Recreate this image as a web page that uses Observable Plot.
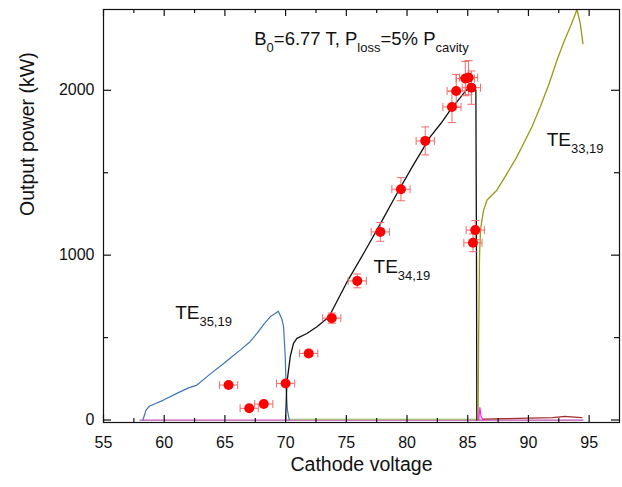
<!DOCTYPE html>
<html><head><meta charset="utf-8">
<script src="https://cdn.jsdelivr.net/npm/d3@7"></script>
<script src="https://cdn.jsdelivr.net/npm/@observablehq/plot@0.6"></script>
<style>body{margin:0;background:#fff;} svg{display:block}</style>
</head><body><div id="chart"></div>
<script>
// ---- axes ----
const xTicks = [55, 60, 65, 70, 75, 80, 85, 90, 95];
const xMinorTicks = [57.5, 62.5, 67.5, 72.5, 77.5, 82.5, 87.5, 92.5];
const yTicks = [0, 1000, 2000];
const yMinorTicks = [500, 1500];

// ---- TE35,19 (blue) ----
const te35X = [58.25, 58.5, 58.8, 59.3, 59.94, 61.0, 62.0, 62.7, 63.8, 64.9, 65.6, 66.26, 67.0, 67.64, 68.2, 68.73, 69.14, 69.4, 69.55, 69.7, 69.83, 69.97, 70.05, 70.15, 70.3];
const te35Y = [0, 60, 85, 100, 121, 160, 195, 212, 280, 343, 385, 424, 470, 525, 580, 626, 646, 660, 636, 610, 566, 384, 182, 60, 0];

// ---- TE34,19 (black) ----
const te34X = [70.0, 70.1, 70.38, 70.65, 70.93, 71.75, 72.58, 73.4, 73.7, 75.0, 76.42, 77.8, 79.17, 80.5, 81.91, 82.8, 83.56, 84.1, 84.65, 85.0, 85.34, 85.6, 85.67, 85.72, 85.75];
const te34Y = [0, 222, 384, 465, 495, 525, 566, 616, 645, 830, 1010, 1190, 1374, 1545, 1717, 1800, 1879, 1930, 1980, 2010, 2020, 2010, 2000, 1000, 0];

// ---- TE33,19 (olive) ----
const te33X = [85.85, 85.9, 85.97, 86.05, 86.17, 86.3, 86.58, 87.0, 87.4, 88.23, 89.0, 89.6, 90.3, 90.97, 91.7, 92.35, 92.9, 93.44, 93.8, 94.0, 94.27, 94.49];
const te33Y = [0, 500, 990, 1150, 1212, 1270, 1333, 1365, 1394, 1495, 1590, 1677, 1780, 1899, 2040, 2182, 2290, 2384, 2450, 2490, 2404, 2283];

// ---- other modes near zero ----
const pinkX = [58.0, 94.5];
const pinkY = [0, 0];
const greenX = [70.3, 86.0];
const greenY = [5, 5];
const redLineX = [86.2, 88.0, 90.0, 92.0, 93.0, 93.8, 94.4];
const redLineY = [5, 8, 12, 15, 22, 18, 15];
const spikeX = [85.9, 86.0, 86.1, 86.3];
const spikeY = [0, 75, 20, 0];

// ---- measured points ----
const ptX = [65.3, 67.0, 68.2, 70.0, 71.9, 73.8, 75.9, 77.8, 79.5, 81.5, 83.7, 84.05, 84.8, 85.07, 85.3, 85.62, 85.43];
const ptY = [212, 71, 97, 222, 404, 618, 844, 1141, 1400, 1693, 1899, 1996, 2071, 2077, 2016, 1152, 1075];
const ptXErr = [0.75, 0.75, 0.75, 0.75, 0.75, 0.75, 0.75, 0.75, 0.75, 0.75, 0.75, 0.75, 0.75, 0.75, 0.75, 0.75, 0.75];
const ptYErr = [11, 4, 5, 11, 20, 31, 42, 57, 70, 85, 95, 100, 104, 104, 101, 58, 54];

// ---- labels ----
const titleText = "B_{0}=6.77 T, P_{loss}=5% P_{cavity}";
const modeLabels = ["TE_{35,19}", "TE_{34,19}", "TE_{33,19}"];
const modeLabelX = [60.9, 77.24, 91.5];
const modeLabelY = [648, 929, 1697];

// ---- build tables ----
const zip = (xs, ys) => xs.map((x, i) => ({x, y: ys[i]}));
const te35 = zip(te35X, te35Y), te34 = zip(te34X, te34Y), te33 = zip(te33X, te33Y);
const pink = zip(pinkX, pinkY), green = zip(greenX, greenY), redLine = zip(redLineX, redLineY), spike = zip(spikeX, spikeY);
const pts = ptX.map((x, i) => ({x, y: ptY[i], ex: ptXErr[i], ey: ptYErr[i]}));
const labels = modeLabels.map((t, i) => ({t, x: modeLabelX[i], y: modeLabelY[i]}));

const vbar = {draw(ctx, size) { const r = Math.sqrt(size / Math.PI); ctx.moveTo(0, -r); ctx.lineTo(0, r); }};
const hbar = {draw(ctx, size) { const r = Math.sqrt(size / Math.PI); ctx.moveTo(-r, 0); ctx.lineTo(r, 0); }};

const W = 622, H = 487, mL = 103, mR = 3, mT = 9, mB = 65;
const pw = W - mL - mR, ph = H - mT - mB;
const errColor = "#f26a6a";

const chart = Plot.plot({
  width: W, height: H,
  marginLeft: mL, marginRight: mR, marginTop: mT, marginBottom: mB,
  style: {fontFamily: "'Liberation Sans', Arial, sans-serif", fontSize: "16px", color: "#111", background: "#fff"},
  x: {domain: [55, 97.5]},
  y: {domain: [-15, 2490]},
  marks: [
    Plot.line(pink, {x: "x", y: "y", stroke: "#c050b0", strokeWidth: 1.2}),
    Plot.line(green, {x: "x", y: "y", stroke: "#9cc060", strokeWidth: 1}),
    Plot.line(redLine, {x: "x", y: "y", stroke: "#a03030", strokeWidth: 1.2}),
    Plot.line(te35, {x: "x", y: "y", stroke: "#3f76b0", strokeWidth: 1.2, clip: true}),
    Plot.line(te34, {x: "x", y: "y", stroke: "#111", strokeWidth: 1.3, clip: true}),
    Plot.line(te33, {x: "x", y: "y", stroke: "#9a9a16", strokeWidth: 1.3, clip: true}),
    Plot.line(spike, {x: "x", y: "y", stroke: "#ff20ff", strokeWidth: 1.2}),
    // error bars
    Plot.link(pts, {x1: d => d.x - d.ex, x2: d => d.x + d.ex, y1: "y", y2: "y", stroke: errColor, strokeWidth: 1}),
    Plot.link(pts, {x1: "x", x2: "x", y1: d => d.y - d.ey, y2: d => d.y + d.ey, stroke: errColor, strokeWidth: 1}),
    Plot.dot(pts, {x: d => d.x - d.ex, y: "y", symbol: vbar, r: 4, stroke: errColor, strokeWidth: 1}),
    Plot.dot(pts, {x: d => d.x + d.ex, y: "y", symbol: vbar, r: 4, stroke: errColor, strokeWidth: 1}),
    Plot.dot(pts, {x: "x", y: d => d.y - d.ey, symbol: hbar, r: 4, stroke: errColor, strokeWidth: 1}),
    Plot.dot(pts, {x: "x", y: d => d.y + d.ey, symbol: hbar, r: 4, stroke: errColor, strokeWidth: 1}),
    Plot.dot(pts, {x: "x", y: "y", r: 5, fill: "#ff0000", stroke: "none"}),
    // frame and ticks
    Plot.frame({stroke: "#111", strokeWidth: 1.2}),
    Plot.tickX(xTicks, {x: d => d, insetTop: ph - 7, stroke: "#111", strokeWidth: 1.2}),
    Plot.tickX(xTicks, {x: d => d, insetBottom: ph - 7, stroke: "#111", strokeWidth: 1.2}),
    Plot.tickX(xMinorTicks, {x: d => d, insetTop: ph - 4, stroke: "#111", strokeWidth: 1.2}),
    Plot.tickX(xMinorTicks, {x: d => d, insetBottom: ph - 4, stroke: "#111", strokeWidth: 1.2}),
    Plot.tickY(yTicks, {y: d => d, insetRight: pw - 8, stroke: "#111", strokeWidth: 1.2}),
    Plot.tickY(yTicks, {y: d => d, insetLeft: pw - 8, stroke: "#111", strokeWidth: 1.2}),
    Plot.tickY(yMinorTicks, {y: d => d, insetRight: pw - 5, stroke: "#111", strokeWidth: 1.2}),
    Plot.tickY(yMinorTicks, {y: d => d, insetLeft: pw - 5, stroke: "#111", strokeWidth: 1.2}),
    Plot.axisX({ticks: xTicks, tickSize: 0, tickPadding: 14, label: null, fontSize: 16, tickFormat: d => String(d)}),
    Plot.axisY({ticks: yTicks, tickSize: 0, tickPadding: 9, label: null, fontSize: 16, tickFormat: d => String(d)}),
    Plot.text(["Cathode voltage"], {frameAnchor: "bottom", dy: 48, fontSize: 19.5, fill: "#111"}),
    Plot.text(["Output power (kW)"], {frameAnchor: "left", dx: -76, rotate: -90, fontSize: 19.5, fill: "#111"}),
    // annotations
    Plot.text([titleText], {frameAnchor: "top", dy: 22, fontSize: 18.5, fill: "#111", className: "subtxt"}),
    Plot.text(labels, {x: "x", y: "y", text: "t", textAnchor: "start", fontSize: 19, fill: "#111", className: "subtxt"})
  ]
});

// render "_{...}" segments as subscripts
d3.select(chart).selectAll(".subtxt text").each(function () {
  const s = this.textContent;
  const parts = s.split(/(_\{[^}]*\})/).filter(Boolean);
  this.textContent = "";
  let shifted = false;
  for (const p of parts) {
    const ts = document.createElementNS("http://www.w3.org/2000/svg", "tspan");
    if (p.startsWith("_{")) {
      ts.textContent = p.slice(2, -1);
      ts.setAttribute("font-size", "13px");
      ts.setAttribute("dy", "7");
      shifted = true;
    } else {
      ts.textContent = p;
      if (shifted) { ts.setAttribute("dy", "-7"); shifted = false; }
    }
    this.appendChild(ts);
  }
});

document.getElementById("chart").appendChild(chart);
</script>
</body></html>
